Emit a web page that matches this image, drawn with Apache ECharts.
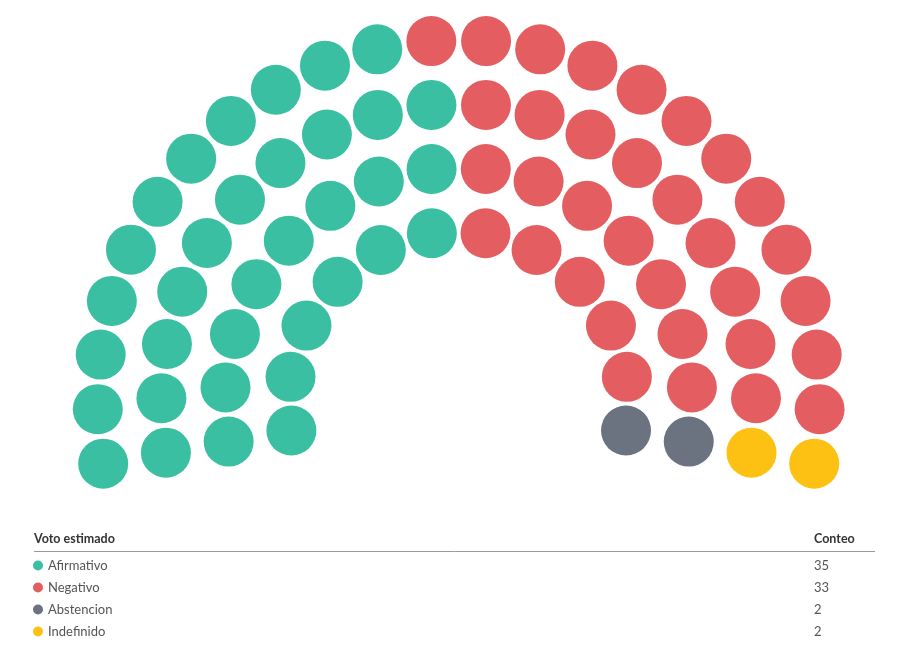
<!DOCTYPE html>
<html>
<head>
<meta charset="utf-8">
<script src="https://cdn.jsdelivr.net/npm/echarts@6/dist/echarts.min.js"></script>
<style>
html,body{margin:0;padding:0;background:#fff;}
#chart{width:900px;height:645px;}
</style>
</head>
<body>
<div id="chart"></div>
<script>
// ---- data ----
const parties = ['Afirmativo', 'Negativo', 'Abstencion', 'Indefinido'];
const counts = [35, 33, 2, 2];
const colors = ['#3bbfa2', '#e45e61', '#6b7280', '#fdc114'];
const rowSeats = [24, 20, 16, 12]; // seats per row, outer to inner
const headerLeft = 'Voto estimado';
const headerRight = 'Conteo';

// ---- layout (parliament arc) ----
const outerRadius = 361, rowStep = 63.7;
const arcStart = 190, arcSpan = 200; // degrees, counter-clockwise from east
const seats = [];
rowSeats.forEach((n, i) => {
  const radius = outerRadius - rowStep * i;
  for (let k = 0; k < n; k++) {
    seats.push({ row: i, radius: radius, angle: arcStart - arcSpan * k / (n - 1) });
  }
});
seats.sort((a, b) => (b.angle - a.angle) || (b.row - a.row));
const seriesData = parties.map(() => []);
let p = 0, used = 0;
seats.forEach(s => {
  while (used >= counts[p]) { p++; used = 0; }
  seriesData[p].push([s.radius, s.angle]);
  used++;
});

const font = 'Lato, "Noto Sans", sans-serif';
const chart = echarts.init(document.getElementById('chart'));
chart.setOption({
  animation: false,
  backgroundColor: '#fff',
  polar: { center: [458.7, 401], radius: 400 },
  radiusAxis: { type: 'value', min: 0, max: 400, show: false },
  angleAxis: { type: 'value', min: 0, max: 360, startAngle: 0, clockwise: false, show: false },
  legend: {
    orient: 'vertical', left: 33, top: 558.5, height: 86, padding: 0, itemGap: 8,
    icon: 'circle', itemWidth: 10, itemHeight: 10,
    selectedMode: false,
    textStyle: { fontFamily: font, fontSize: 13, color: '#555', lineHeight: 14 },
    data: parties
  },
  title: [
    { text: headerLeft, left: 34, top: 532.5, padding: 0,
      textStyle: { fontFamily: font, fontSize: 12.5, fontWeight: 'bold', color: '#333' } },
    { text: headerRight, left: 814, top: 532.5, padding: 0,
      textStyle: { fontFamily: font, fontSize: 12.5, fontWeight: 'bold', color: '#333' } }
  ],
  graphic: [
    { type: 'line', shape: { x1: 34, y1: 551.5, x2: 875, y2: 551.5 },
      style: { stroke: '#9a9a9a', lineWidth: 1 } }
  ].concat(counts.map((c, i) => ({
    type: 'text', left: 814, top: 559 + i * 22,
    style: { text: String(c), font: '13px ' + font, fill: '#555' }
  }))),
  series: parties.map((name, i) => ({
    name: name,
    type: 'scatter',
    coordinateSystem: 'polar',
    symbol: 'circle',
    symbolSize: 50,
    itemStyle: { color: colors[i], opacity: 1 },
    emphasis: { disabled: true },
    data: seriesData[i]
  }))
});
</script>
</body>
</html>
